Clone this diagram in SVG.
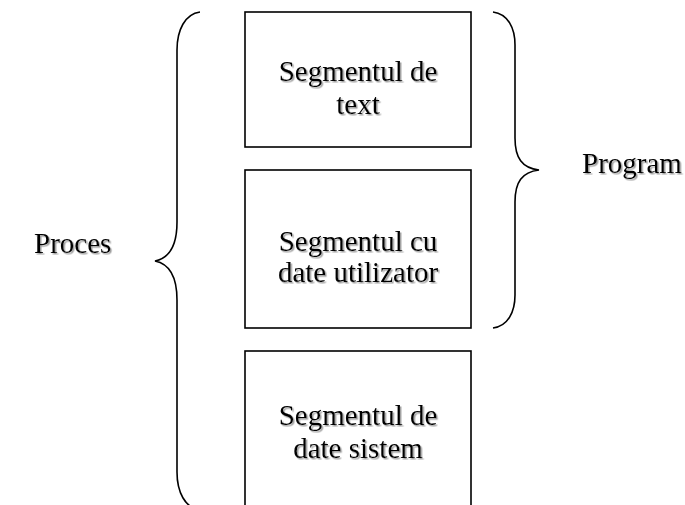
<svg xmlns="http://www.w3.org/2000/svg" width="685" height="505" viewBox="0 0 685 505">
<defs>
<filter id="sh" x="-10%" y="-20%" width="130%" height="150%">
<feDropShadow dx="1.5" dy="1.5" stdDeviation="0.6" flood-color="#888" flood-opacity="0.8"/>
</filter>
<style>
.box{fill:#fff;stroke:#000;stroke-width:1.6}
.br{fill:none;stroke:#000;stroke-width:1.6}
.t{font-family:"Liberation Serif","Times New Roman",serif;font-size:29px;fill:#000;filter:url(#sh)}
.c{text-anchor:middle}
</style>
</defs>
<rect width="685" height="505" fill="#fff"/>
<g id="connectors">
<path class="br" d="M200,12 C185,14 177,30 177,50 L177,222 C177,244 170,258 155,261 C170,264 177,278 177,300 L177,472 C177,492 185,508 200,510"/>
<path class="br" d="M493,12 C508,14 515,28 515,45 L515,138 C515,158 522,168 539,170 C522,172 515,182 515,202 L515,295 C515,312 508,326 493,328"/>
</g>
<g id="box-text">
<rect class="box" x="245" y="12" width="226" height="135"/>
<text class="t c" x="358" y="81">Segmentul de</text>
<text class="t c" x="358" y="114">text</text>
</g>
<g id="box-user">
<rect class="box" x="245" y="170" width="226" height="158"/>
<text class="t c" x="358" y="251">Segmentul cu</text>
<text class="t c" x="358" y="282">date utilizator</text>
</g>
<g id="box-system">
<rect class="box" x="245" y="351" width="226" height="170"/>
<text class="t c" x="358" y="425">Segmentul de</text>
<text class="t c" x="358" y="458">date sistem</text>
</g>
<g id="label-proces">
<text class="t" x="34" y="253">Proces</text>
</g>
<g id="label-program">
<text class="t" x="582" y="173">Program</text>
</g>
</svg>
